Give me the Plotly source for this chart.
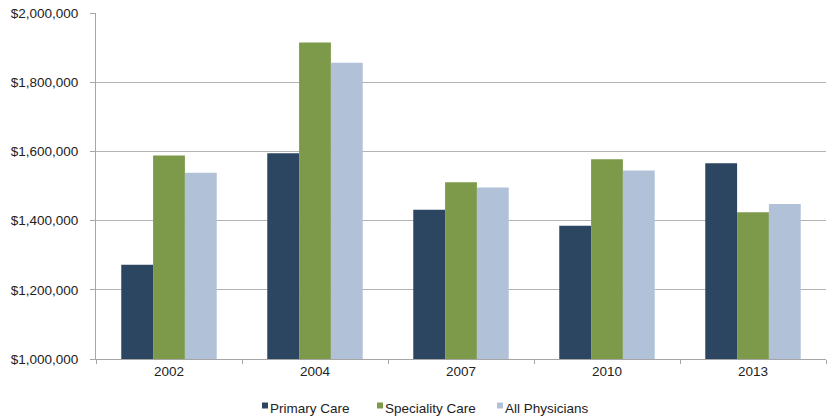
import plotly.graph_objects as go

years = ["2002", "2004", "2007", "2010", "2013"]
primary_care = [1272500, 1595000, 1431000, 1385000, 1566000]
speciality_care = [1588000, 1915000, 1511000, 1577000, 1424000]
all_physicians = [1538000, 1856000, 1496000, 1545000, 1448000]

y_ticks = [1000000, 1200000, 1400000, 1600000, 1800000, 2000000]
y_tick_labels = ["$1,000,000", "$1,200,000", "$1,400,000", "$1,600,000", "$1,800,000", "$2,000,000"]

series_names = ["Primary Care", "Speciality Care", "All Physicians"]
series_values = [primary_care, speciality_care, all_physicians]
series_colors = ["#2c4560", "#7c9a4a", "#b1c2d8"]

W, H = 827, 420
ML, MR, MT, MB = 96, 1, 13, 61
PW, PH = W - ML - MR, H - MT - MB

fig = go.Figure()
for name, vals, color in zip(series_names, series_values, series_colors):
    fig.add_trace(go.Bar(x=years, y=vals, name=name,
                         marker=dict(color=color, line=dict(width=0))))

font = dict(family="Liberation Sans, Arial, sans-serif", size=13.5, color="#222222")

# custom legend (compact, like the original)
def px_x(p):
    return (p - ML) / PW

def px_y(p):
    return (H - MB - p) / PH

legend_square_left = [262, 377, 497]
shapes, annotations = [], []
for name, color, sx in zip(series_names, series_colors, legend_square_left):
    shapes.append(dict(type="rect", xref="paper", yref="paper",
                       x0=px_x(sx), x1=px_x(sx + 6), y0=px_y(408.5), y1=px_y(402.5),
                       fillcolor=color, line=dict(width=0)))
    annotations.append(dict(text=name, xref="paper", yref="paper",
                            x=px_x(sx + 7), y=px_y(408.5), xanchor="left", yanchor="middle",
                            showarrow=False, font=font, borderpad=0))

fig.update_layout(
    width=W, height=H,
    margin=dict(l=ML, r=MR, t=MT, b=MB),
    paper_bgcolor="white", plot_bgcolor="white",
    bargap=0.346, bargroupgap=0,
    font=font,
    showlegend=False,
    shapes=shapes,
    annotations=annotations,
    xaxis=dict(type="category", showline=True, linecolor="#a6a6a6", linewidth=1,
               ticks="outside", tickson="boundaries", ticklen=4, tickcolor="#a6a6a6",
               showgrid=False, tickfont=font, automargin=False),
    yaxis=dict(range=[1000000, 2000000], tickvals=y_ticks, ticktext=y_tick_labels,
               showline=True, linecolor="#a6a6a6", linewidth=1,
               ticks="outside", ticklen=5, tickcolor="#a6a6a6",
               ticklabelstandoff=9,
               showgrid=True, gridcolor="#b3b3b3", gridwidth=1,
               zeroline=False, tickfont=font, automargin=False),
)

fig.write_html("out.html", config={"displayModeBar": False},
               post_script="document.body.style.margin='0px';document.body.style.overflow='hidden';")
